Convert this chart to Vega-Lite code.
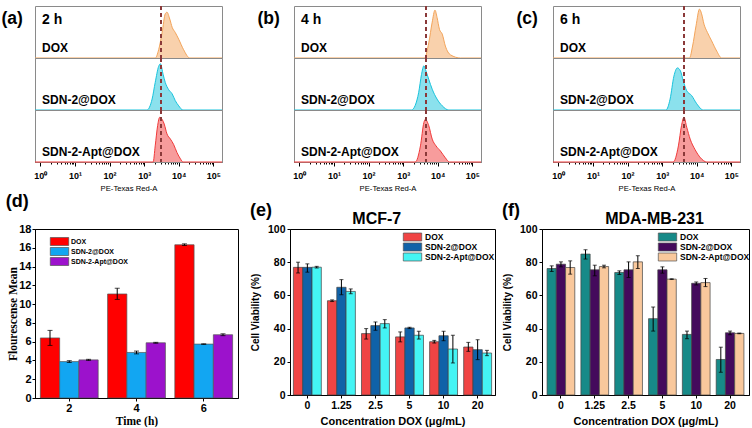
{
"$schema": "https://vega.github.io/schema/vega-lite/v6.json",
"padding": {"left": 1, "top": 4, "right": 0, "bottom": 0},
"config": {
 "font": "Liberation Sans",
 "view": {"stroke": "#8a8a8a"},
 "axis": {"grid": false, "labelOverlap": false, "domainColor": "black", "tickColor": "black", "labelColor": "black", "titleColor": "black", "labelFont": "Liberation Sans", "titleFont": "Liberation Sans"},
 "title": {"font": "Liberation Sans", "fontWeight": "bold", "color": "black"}
},
"datasets": {
 "hist": [
  {"t":"2 h","s":"DOX","x":0.7,"h":0},{"t":"2 h","s":"DOX","x":2089,"h":0},{"t":"2 h","s":"DOX","x":2630,"h":0.16},{"t":"2 h","s":"DOX","x":3311,"h":0.49},{"t":"2 h","s":"DOX","x":4074,"h":0.85},{"t":"2 h","s":"DOX","x":4571,"h":0.88},{"t":"2 h","s":"DOX","x":5495,"h":0.75},{"t":"2 h","s":"DOX","x":6457,"h":0.59},{"t":"2 h","s":"DOX","x":7943,"h":0.49},{"t":"2 h","s":"DOX","x":10000,"h":0.36},{"t":"2 h","s":"DOX","x":13804,"h":0.16},{"t":"2 h","s":"DOX","x":20893,"h":0},{"t":"2 h","s":"DOX","x":178000,"h":0},
  {"t":"2 h","s":"SDN-2@DOX","x":0.7,"h":0},{"t":"2 h","s":"SDN-2@DOX","x":1202,"h":0},{"t":"2 h","s":"SDN-2@DOX","x":1698,"h":0.21},{"t":"2 h","s":"SDN-2@DOX","x":2089,"h":0.53},{"t":"2 h","s":"SDN-2@DOX","x":2630,"h":0.84},{"t":"2 h","s":"SDN-2@DOX","x":2951,"h":0.89},{"t":"2 h","s":"SDN-2@DOX","x":3548,"h":0.68},{"t":"2 h","s":"SDN-2@DOX","x":4074,"h":0.53},{"t":"2 h","s":"SDN-2@DOX","x":5129,"h":0.39},{"t":"2 h","s":"SDN-2@DOX","x":6457,"h":0.31},{"t":"2 h","s":"SDN-2@DOX","x":7943,"h":0.18},{"t":"2 h","s":"SDN-2@DOX","x":10000,"h":0.08},{"t":"2 h","s":"SDN-2@DOX","x":13183,"h":0},{"t":"2 h","s":"SDN-2@DOX","x":178000,"h":0},
  {"t":"2 h","s":"SDN-2-Apt@DOX","x":0.7,"h":0},{"t":"2 h","s":"SDN-2-Apt@DOX","x":1820,"h":0},{"t":"2 h","s":"SDN-2-Apt@DOX","x":2089,"h":0.31},{"t":"2 h","s":"SDN-2-Apt@DOX","x":2455,"h":0.7},{"t":"2 h","s":"SDN-2-Apt@DOX","x":2818,"h":0.86},{"t":"2 h","s":"SDN-2-Apt@DOX","x":3311,"h":0.82},{"t":"2 h","s":"SDN-2-Apt@DOX","x":3802,"h":0.73},{"t":"2 h","s":"SDN-2-Apt@DOX","x":4571,"h":0.54},{"t":"2 h","s":"SDN-2-Apt@DOX","x":5754,"h":0.44},{"t":"2 h","s":"SDN-2-Apt@DOX","x":7079,"h":0.34},{"t":"2 h","s":"SDN-2-Apt@DOX","x":8913,"h":0.18},{"t":"2 h","s":"SDN-2-Apt@DOX","x":11220,"h":0.06},{"t":"2 h","s":"SDN-2-Apt@DOX","x":13183,"h":0},{"t":"2 h","s":"SDN-2-Apt@DOX","x":178000,"h":0},
  {"t":"4 h","s":"DOX","x":0.7,"h":0},{"t":"4 h","s":"DOX","x":4169,"h":0},{"t":"4 h","s":"DOX","x":5495,"h":0.29},{"t":"4 h","s":"DOX","x":6918,"h":0.69},{"t":"4 h","s":"DOX","x":8318,"h":0.92},{"t":"4 h","s":"DOX","x":9550,"h":0.78},{"t":"4 h","s":"DOX","x":11220,"h":0.55},{"t":"4 h","s":"DOX","x":13490,"h":0.46},{"t":"4 h","s":"DOX","x":16596,"h":0.23},{"t":"4 h","s":"DOX","x":23442,"h":0.06},{"t":"4 h","s":"DOX","x":45709,"h":0},{"t":"4 h","s":"DOX","x":178000,"h":0},
  {"t":"4 h","s":"SDN-2@DOX","x":0.7,"h":0},{"t":"4 h","s":"SDN-2@DOX","x":1738,"h":0},{"t":"4 h","s":"SDN-2@DOX","x":2239,"h":0.09},{"t":"4 h","s":"SDN-2@DOX","x":2818,"h":0.34},{"t":"4 h","s":"SDN-2@DOX","x":3388,"h":0.68},{"t":"4 h","s":"SDN-2@DOX","x":3981,"h":0.85},{"t":"4 h","s":"SDN-2@DOX","x":4571,"h":0.75},{"t":"4 h","s":"SDN-2@DOX","x":5495,"h":0.59},{"t":"4 h","s":"SDN-2@DOX","x":6918,"h":0.4},{"t":"4 h","s":"SDN-2@DOX","x":9550,"h":0.21},{"t":"4 h","s":"SDN-2@DOX","x":13490,"h":0.08},{"t":"4 h","s":"SDN-2@DOX","x":20893,"h":0},{"t":"4 h","s":"SDN-2@DOX","x":178000,"h":0},
  {"t":"4 h","s":"SDN-2-Apt@DOX","x":0.7,"h":0},{"t":"4 h","s":"SDN-2-Apt@DOX","x":2239,"h":0},{"t":"4 h","s":"SDN-2-Apt@DOX","x":3162,"h":0.31},{"t":"4 h","s":"SDN-2-Apt@DOX","x":3981,"h":0.76},{"t":"4 h","s":"SDN-2-Apt@DOX","x":4365,"h":0.82},{"t":"4 h","s":"SDN-2-Apt@DOX","x":5495,"h":0.7},{"t":"4 h","s":"SDN-2-Apt@DOX","x":6918,"h":0.44},{"t":"4 h","s":"SDN-2-Apt@DOX","x":8913,"h":0.31},{"t":"4 h","s":"SDN-2-Apt@DOX","x":12023,"h":0.21},{"t":"4 h","s":"SDN-2-Apt@DOX","x":16596,"h":0.08},{"t":"4 h","s":"SDN-2-Apt@DOX","x":21878,"h":0},{"t":"4 h","s":"SDN-2-Apt@DOX","x":178000,"h":0},
  {"t":"6 h","s":"DOX","x":0.7,"h":0},{"t":"6 h","s":"DOX","x":6166,"h":0},{"t":"6 h","s":"DOX","x":7586,"h":0.23},{"t":"6 h","s":"DOX","x":9550,"h":0.62},{"t":"6 h","s":"DOX","x":12023,"h":0.94},{"t":"6 h","s":"DOX","x":13804,"h":0.85},{"t":"6 h","s":"DOX","x":16218,"h":0.65},{"t":"6 h","s":"DOX","x":20417,"h":0.49},{"t":"6 h","s":"DOX","x":26915,"h":0.33},{"t":"6 h","s":"DOX","x":38019,"h":0.13},{"t":"6 h","s":"DOX","x":52481,"h":0},{"t":"6 h","s":"DOX","x":178000,"h":0},
  {"t":"6 h","s":"SDN-2@DOX","x":0.7,"h":0},{"t":"6 h","s":"SDN-2@DOX","x":1288,"h":0},{"t":"6 h","s":"SDN-2@DOX","x":1698,"h":0.21},{"t":"6 h","s":"SDN-2@DOX","x":2188,"h":0.65},{"t":"6 h","s":"SDN-2@DOX","x":2754,"h":0.81},{"t":"6 h","s":"SDN-2@DOX","x":3388,"h":0.75},{"t":"6 h","s":"SDN-2@DOX","x":4074,"h":0.56},{"t":"6 h","s":"SDN-2@DOX","x":5129,"h":0.37},{"t":"6 h","s":"SDN-2@DOX","x":7079,"h":0.28},{"t":"6 h","s":"SDN-2@DOX","x":10000,"h":0.12},{"t":"6 h","s":"SDN-2@DOX","x":15488,"h":0},{"t":"6 h","s":"SDN-2@DOX","x":178000,"h":0},
  {"t":"6 h","s":"SDN-2-Apt@DOX","x":0.7,"h":0},{"t":"6 h","s":"SDN-2-Apt@DOX","x":2089,"h":0},{"t":"6 h","s":"SDN-2-Apt@DOX","x":2951,"h":0.31},{"t":"6 h","s":"SDN-2-Apt@DOX","x":3631,"h":0.7},{"t":"6 h","s":"SDN-2-Apt@DOX","x":4266,"h":0.86},{"t":"6 h","s":"SDN-2-Apt@DOX","x":5129,"h":0.67},{"t":"6 h","s":"SDN-2-Apt@DOX","x":6457,"h":0.44},{"t":"6 h","s":"SDN-2-Apt@DOX","x":8913,"h":0.24},{"t":"6 h","s":"SDN-2-Apt@DOX","x":12882,"h":0.08},{"t":"6 h","s":"SDN-2-Apt@DOX","x":19498,"h":0},{"t":"6 h","s":"SDN-2-Apt@DOX","x":178000,"h":0}
 ],
 "bars_d": [
  {"time":"2","g":"DOX","mean":6.4,"lo":5.6,"hi":7.2},{"time":"2","g":"SDN-2@DOX","mean":3.88,"lo":3.78,"hi":3.98},{"time":"2","g":"SDN-2-Apt@DOX","mean":4.06,"lo":4.0,"hi":4.12},
  {"time":"4","g":"DOX","mean":11.08,"lo":10.5,"hi":11.69},{"time":"4","g":"SDN-2@DOX","mean":4.85,"lo":4.7,"hi":5.0},{"time":"4","g":"SDN-2-Apt@DOX","mean":5.88,"lo":5.83,"hi":5.93},
  {"time":"6","g":"DOX","mean":16.32,"lo":16.24,"hi":16.42},{"time":"6","g":"SDN-2@DOX","mean":5.74,"lo":5.71,"hi":5.77},{"time":"6","g":"SDN-2-Apt@DOX","mean":6.74,"lo":6.64,"hi":6.84}
 ],
 "bars_e": [
  {"c":"0","g":"DOX","mean":76.9,"lo":73.5,"hi":80},{"c":"0","g":"SDN-2@DOX","mean":76.9,"lo":74,"hi":79},{"c":"0","g":"SDN-2-Apt@DOX","mean":77,"lo":76.5,"hi":77.5},
  {"c":"1.25","g":"DOX","mean":56.8,"lo":56.3,"hi":57.3},{"c":"1.25","g":"SDN-2@DOX","mean":64.9,"lo":60.4,"hi":69.5},{"c":"1.25","g":"SDN-2-Apt@DOX","mean":62.4,"lo":61,"hi":63.9},
  {"c":"2.5","g":"DOX","mean":37,"lo":33.7,"hi":40},{"c":"2.5","g":"SDN-2@DOX","mean":41.8,"lo":39,"hi":44},{"c":"2.5","g":"SDN-2-Apt@DOX","mean":43,"lo":40.4,"hi":45.4},
  {"c":"5","g":"DOX","mean":35,"lo":32,"hi":38},{"c":"5","g":"SDN-2@DOX","mean":40.4,"lo":40,"hi":40.8},{"c":"5","g":"SDN-2-Apt@DOX","mean":36,"lo":33.7,"hi":38.4},
  {"c":"10","g":"DOX","mean":32.1,"lo":31.3,"hi":32.9},{"c":"10","g":"SDN-2@DOX","mean":35.7,"lo":32.7,"hi":38.4},{"c":"10","g":"SDN-2-Apt@DOX","mean":27.7,"lo":19.3,"hi":36},
  {"c":"20","g":"DOX","mean":28.9,"lo":26.3,"hi":31.7},{"c":"20","g":"SDN-2@DOX","mean":27.3,"lo":21.3,"hi":33.3},{"c":"20","g":"SDN-2-Apt@DOX","mean":25.3,"lo":23.7,"hi":26.9}
 ],
 "bars_f": [
  {"c":"0","g":"DOX","mean":76.2,"lo":74.4,"hi":77.8},{"c":"0","g":"SDN-2@DOX","mean":78.8,"lo":77.2,"hi":80.2},{"c":"0","g":"SDN-2-Apt@DOX","mean":76.8,"lo":72.8,"hi":80.8},
  {"c":"1.25","g":"DOX","mean":84.9,"lo":81.9,"hi":87.5},{"c":"1.25","g":"SDN-2@DOX","mean":75.4,"lo":71.8,"hi":78.2},{"c":"1.25","g":"SDN-2-Apt@DOX","mean":77.4,"lo":76.6,"hi":78.2},
  {"c":"2.5","g":"DOX","mean":73.8,"lo":72.6,"hi":74.8},{"c":"2.5","g":"SDN-2@DOX","mean":75.4,"lo":70.8,"hi":80.2},{"c":"2.5","g":"SDN-2-Apt@DOX","mean":80.2,"lo":76.2,"hi":83.9},
  {"c":"5","g":"DOX","mean":46,"lo":38.5,"hi":53},{"c":"5","g":"SDN-2@DOX","mean":75.4,"lo":73.4,"hi":77.2},{"c":"5","g":"SDN-2-Apt@DOX","mean":69.8,"lo":69.6,"hi":70},
  {"c":"10","g":"DOX","mean":36.5,"lo":33.9,"hi":38.5},{"c":"10","g":"SDN-2@DOX","mean":67.3,"lo":66.3,"hi":68.1},{"c":"10","g":"SDN-2-Apt@DOX","mean":67.7,"lo":65.3,"hi":70.2},
  {"c":"20","g":"DOX","mean":21.4,"lo":13.7,"hi":28.8},{"c":"20","g":"SDN-2@DOX","mean":37.5,"lo":36.3,"hi":38.5},{"c":"20","g":"SDN-2-Apt@DOX","mean":37.1,"lo":36.9,"hi":37.3}
 ]
},
"spacing": 0,
"resolve": {"scale": {"x": "independent", "y": "independent", "color": "independent", "xOffset": "independent"}},
"vconcat": [
 {"spacing": 32,
  "resolve": {"scale": {"x": "independent", "y": "independent", "color": "independent"}},
  "hconcat": [
  {"data": {"name": "hist"}, "transform": [{"filter": "datum.t === '2 h'"}],
   "title": {"text": "(a)", "anchor": "start", "frame": "bounds", "fontSize": 17.5, "offset": -23, "dx": -31},
   "facet": {"row": {"field": "s", "type": "nominal", "sort": ["DOX","SDN-2@DOX","SDN-2-Apt@DOX"], "header": null}},
   "spacing": 0, "bounds": "flush",
   "spec": {"width": 187, "height": 52, "layer": [
    {"mark": {"type": "area", "opacity": 0.5, "interpolate": "monotone"}, "encoding": {
      "x": {"field": "x", "type": "quantitative", "scale": {"type": "log", "domain": [0.7, 178000], "nice": false}, "axis": {"title": "PE-Texas Red-A", "titleFontSize": 7.7, "titleFontWeight": "normal", "titlePadding": 4, "values": [1,2,3,4,5,6,7,8,9,10,20,30,40,50,60,70,80,90,100,200,300,400,500,600,700,800,900,1000,2000,3000,4000,5000,6000,7000,8000,9000,10000,20000,30000,40000,50000,60000,70000,80000,90000,100000], "labelExpr": "datum.value==1?'10⁰':datum.value==10?'10¹':datum.value==100?'10²':datum.value==1000?'10³':datum.value==10000?'10⁴':datum.value==100000?'10⁵':''", "labelFontSize": 9, "labelFontWeight": "bold", "labelOverlap": false, "labelFlush": false, "labelPadding": 5, "tickSize": {"condition": {"test": "indexof([1,10,100,1000,10000,100000], datum.value) >= 0", "value": 4}, "value": 2}, "domainWidth": 1.2}},
      "y": {"field": "h", "type": "quantitative", "scale": {"domain": [0, 1], "nice": false}, "axis": null},
      "color": {"field": "s", "type": "nominal", "scale": {"domain": ["DOX","SDN-2@DOX","SDN-2-Apt@DOX"], "range": ["#F3A45A","#18C3DC","#F03A3A"]}, "legend": null}}},
    {"mark": {"type": "line", "strokeWidth": 1, "interpolate": "monotone"}, "encoding": {
      "x": {"field": "x", "type": "quantitative"},
      "y": {"field": "h", "type": "quantitative", "axis": null},
      "color": {"field": "s", "type": "nominal", "legend": null}}},
    {"mark": {"type": "rule", "color": "#8B3A3A", "strokeDash": [4, 3], "strokeWidth": 1.2}, "encoding": {"x": {"datum": 3090}}},
    {"transform": [{"aggregate": [{"op": "count", "as": "n"}], "groupby": ["s"]}], "mark": {"type": "text", "align": "left", "baseline": "alphabetic", "fontSize": 12, "fontWeight": "bold", "color": "black"}, "encoding": {"text": {"field": "s"}, "x": {"datum": 1.12}, "y": {"datum": 0.12, "axis": null}}},
    {"transform": [{"aggregate": [{"op": "count", "as": "n"}], "groupby": ["s", "t"]}, {"filter": "datum.s === 'DOX'"}], "mark": {"type": "text", "align": "left", "baseline": "alphabetic", "fontSize": 14, "fontWeight": "bold", "color": "black"}, "encoding": {"text": {"field": "t"}, "x": {"datum": 1.12}, "y": {"datum": 0.66, "axis": null}}}
   ]}},
  {"data": {"name": "hist"}, "transform": [{"filter": "datum.t === '4 h'"}],
   "title": {"text": "(b)", "anchor": "start", "frame": "bounds", "fontSize": 17.5, "offset": -23, "dx": -34},
   "facet": {"row": {"field": "s", "type": "nominal", "sort": ["DOX","SDN-2@DOX","SDN-2-Apt@DOX"], "header": null}},
   "spacing": 0, "bounds": "flush",
   "spec": {"width": 187, "height": 52, "layer": [
    {"mark": {"type": "area", "opacity": 0.5, "interpolate": "monotone"}, "encoding": {
      "x": {"field": "x", "type": "quantitative", "scale": {"type": "log", "domain": [0.7, 178000], "nice": false}, "axis": {"title": "PE-Texas Red-A", "titleFontSize": 7.7, "titleFontWeight": "normal", "titlePadding": 4, "values": [1,2,3,4,5,6,7,8,9,10,20,30,40,50,60,70,80,90,100,200,300,400,500,600,700,800,900,1000,2000,3000,4000,5000,6000,7000,8000,9000,10000,20000,30000,40000,50000,60000,70000,80000,90000,100000], "labelExpr": "datum.value==1?'10⁰':datum.value==10?'10¹':datum.value==100?'10²':datum.value==1000?'10³':datum.value==10000?'10⁴':datum.value==100000?'10⁵':''", "labelFontSize": 9, "labelFontWeight": "bold", "labelOverlap": false, "labelFlush": false, "labelPadding": 5, "tickSize": {"condition": {"test": "indexof([1,10,100,1000,10000,100000], datum.value) >= 0", "value": 4}, "value": 2}, "domainWidth": 1.2}},
      "y": {"field": "h", "type": "quantitative", "scale": {"domain": [0, 1], "nice": false}, "axis": null},
      "color": {"field": "s", "type": "nominal", "scale": {"domain": ["DOX","SDN-2@DOX","SDN-2-Apt@DOX"], "range": ["#F3A45A","#18C3DC","#F03A3A"]}, "legend": null}}},
    {"mark": {"type": "line", "strokeWidth": 1, "interpolate": "monotone"}, "encoding": {
      "x": {"field": "x", "type": "quantitative"},
      "y": {"field": "h", "type": "quantitative", "axis": null},
      "color": {"field": "s", "type": "nominal", "legend": null}}},
    {"mark": {"type": "rule", "color": "#8B3A3A", "strokeDash": [4, 3], "strokeWidth": 1.2}, "encoding": {"x": {"datum": 4571}}},
    {"transform": [{"aggregate": [{"op": "count", "as": "n"}], "groupby": ["s"]}], "mark": {"type": "text", "align": "left", "baseline": "alphabetic", "fontSize": 12, "fontWeight": "bold", "color": "black"}, "encoding": {"text": {"field": "s"}, "x": {"datum": 1.12}, "y": {"datum": 0.12, "axis": null}}},
    {"transform": [{"aggregate": [{"op": "count", "as": "n"}], "groupby": ["s", "t"]}, {"filter": "datum.s === 'DOX'"}], "mark": {"type": "text", "align": "left", "baseline": "alphabetic", "fontSize": 14, "fontWeight": "bold", "color": "black"}, "encoding": {"text": {"field": "t"}, "x": {"datum": 1.12}, "y": {"datum": 0.66, "axis": null}}}
   ]}},
  {"data": {"name": "hist"}, "transform": [{"filter": "datum.t === '6 h'"}],
   "title": {"text": "(c)", "anchor": "start", "frame": "bounds", "fontSize": 17.5, "offset": -23, "dx": -34},
   "facet": {"row": {"field": "s", "type": "nominal", "sort": ["DOX","SDN-2@DOX","SDN-2-Apt@DOX"], "header": null}},
   "spacing": 0, "bounds": "flush",
   "spec": {"width": 187, "height": 52, "layer": [
    {"mark": {"type": "area", "opacity": 0.5, "interpolate": "monotone"}, "encoding": {
      "x": {"field": "x", "type": "quantitative", "scale": {"type": "log", "domain": [0.7, 178000], "nice": false}, "axis": {"title": "PE-Texas Red-A", "titleFontSize": 7.7, "titleFontWeight": "normal", "titlePadding": 4, "values": [1,2,3,4,5,6,7,8,9,10,20,30,40,50,60,70,80,90,100,200,300,400,500,600,700,800,900,1000,2000,3000,4000,5000,6000,7000,8000,9000,10000,20000,30000,40000,50000,60000,70000,80000,90000,100000], "labelExpr": "datum.value==1?'10⁰':datum.value==10?'10¹':datum.value==100?'10²':datum.value==1000?'10³':datum.value==10000?'10⁴':datum.value==100000?'10⁵':''", "labelFontSize": 9, "labelFontWeight": "bold", "labelOverlap": false, "labelFlush": false, "labelPadding": 5, "tickSize": {"condition": {"test": "indexof([1,10,100,1000,10000,100000], datum.value) >= 0", "value": 4}, "value": 2}, "domainWidth": 1.2}},
      "y": {"field": "h", "type": "quantitative", "scale": {"domain": [0, 1], "nice": false}, "axis": null},
      "color": {"field": "s", "type": "nominal", "scale": {"domain": ["DOX","SDN-2@DOX","SDN-2-Apt@DOX"], "range": ["#F3A45A","#18C3DC","#F03A3A"]}, "legend": null}}},
    {"mark": {"type": "line", "strokeWidth": 1, "interpolate": "monotone"}, "encoding": {
      "x": {"field": "x", "type": "quantitative"},
      "y": {"field": "h", "type": "quantitative", "axis": null},
      "color": {"field": "s", "type": "nominal", "legend": null}}},
    {"mark": {"type": "rule", "color": "#8B3A3A", "strokeDash": [4, 3], "strokeWidth": 1.2}, "encoding": {"x": {"datum": 4266}}},
    {"transform": [{"aggregate": [{"op": "count", "as": "n"}], "groupby": ["s"]}], "mark": {"type": "text", "align": "left", "baseline": "alphabetic", "fontSize": 12, "fontWeight": "bold", "color": "black"}, "encoding": {"text": {"field": "s"}, "x": {"datum": 1.12}, "y": {"datum": 0.12, "axis": null}}},
    {"transform": [{"aggregate": [{"op": "count", "as": "n"}], "groupby": ["s", "t"]}, {"filter": "datum.s === 'DOX'"}], "mark": {"type": "text", "align": "left", "baseline": "alphabetic", "fontSize": 14, "fontWeight": "bold", "color": "black"}, "encoding": {"text": {"field": "t"}, "x": {"datum": 1.12}, "y": {"datum": 0.66, "axis": null}}}
   ]}}
 ]},
 {"spacing": 10,
  "resolve": {"scale": {"x": "independent", "y": "independent", "color": "independent", "xOffset": "independent"}},
  "hconcat": [
  {"title": {"text": "(d)", "anchor": "start", "frame": "bounds", "fontSize": 18, "offset": 12, "dx": -2},
   "width": 203, "height": 169,
   "data": {"name": "bars_d"},
   "view": {"stroke": "black", "strokeWidth": 1},
   "encoding": {
    "x": {"field": "time", "type": "nominal", "sort": ["2","4","6"], "scale": {"paddingInner": 0.14, "paddingOuter": 0.08}, "axis": {"title": "Time (h)", "labelAngle": 0, "labelFontSize": 11, "labelFontWeight": "bold", "titleFont": "Liberation Serif", "titleFontSize": 11.5, "titleFontWeight": "bold", "tickSize": 3, "labelPadding": 1, "titlePadding": 2}},
    "xOffset": {"field": "g", "type": "nominal", "sort": ["DOX","SDN-2@DOX","SDN-2-Apt@DOX"]}
   },
   "layer": [
    {"mark": {"type": "bar", "stroke": "#555", "strokeWidth": 0.7}, "encoding": {
      "y": {"field": "mean", "type": "quantitative", "scale": {"domain": [0, 18], "nice": false}, "axis": {"title": "Flourescense Mean", "values": [0,2,4,6,8,10,12,14,16,18], "labelOverlap": false, "labelFontSize": 11, "labelFontWeight": "bold", "titleFont": "Liberation Serif", "titleFontSize": 11.5, "titleFontWeight": "bold", "tickSize": 3, "labelPadding": 1, "titlePadding": 0}},
      "color": {"field": "g", "type": "nominal", "sort": ["DOX","SDN-2@DOX","SDN-2-Apt@DOX"], "scale": {"domain": ["DOX","SDN-2@DOX","SDN-2-Apt@DOX"], "range": ["#FF0000","#12A6F2","#9C12CC"]},
        "legend": {"title": null, "orient": "none", "legendX": 20, "legendY": 8, "padding": 0, "labelFontSize": 7, "labelFontWeight": "bold", "symbolType": "M-2.3,-1H2.3V1H-2.3Z", "symbolSize": 64, "symbolStrokeColor": "#555", "symbolStrokeWidth": 0.7, "symbolOpacity": 1, "labelOffset": 7, "rowPadding": -1}}}},
    {"mark": {"type": "rule", "color": "black", "strokeWidth": 1}, "encoding": {"y": {"field": "lo", "type": "quantitative", "axis": {"title": "Flourescense Mean", "values": [0,2,4,6,8,10,12,14,16,18], "labelOverlap": false, "labelFontSize": 11, "labelFontWeight": "bold", "titleFont": "Liberation Serif", "titleFontSize": 11.5, "titleFontWeight": "bold", "tickSize": 3, "labelPadding": 1, "titlePadding": 0}}, "y2": {"field": "hi"}}},
    {"mark": {"type": "tick", "color": "black", "thickness": 1, "size": 5}, "encoding": {"y": {"field": "hi", "type": "quantitative", "axis": {"title": "Flourescense Mean", "values": [0,2,4,6,8,10,12,14,16,18], "labelOverlap": false, "labelFontSize": 11, "labelFontWeight": "bold", "titleFont": "Liberation Serif", "titleFontSize": 11.5, "titleFontWeight": "bold", "tickSize": 3, "labelPadding": 1, "titlePadding": 0}}}},
    {"mark": {"type": "tick", "color": "black", "thickness": 1, "size": 5}, "encoding": {"y": {"field": "lo", "type": "quantitative", "axis": {"title": "Flourescense Mean", "values": [0,2,4,6,8,10,12,14,16,18], "labelOverlap": false, "labelFontSize": 11, "labelFontWeight": "bold", "titleFont": "Liberation Serif", "titleFontSize": 11.5, "titleFontWeight": "bold", "tickSize": 3, "labelPadding": 1, "titlePadding": 0}}}}
   ]},
  {"spacing": 5,
   "resolve": {"scale": {"x": "independent", "y": "independent", "color": "independent", "xOffset": "independent"}},
   "hconcat": [
   {"title": {"text": "(e)", "anchor": "start", "frame": "bounds", "fontSize": 18, "offset": -9},
    "hconcat": [
    {"title": {"text": "MCF-7", "anchor": "middle", "frame": "bounds", "fontSize": 16, "offset": -3, "dx": 4},
     "width": 205, "height": 166,
     "data": {"name": "bars_e"},
     "view": {"stroke": "black", "strokeWidth": 1},
     "encoding": {
      "x": {"field": "c", "type": "nominal", "sort": ["0","1.25","2.5","5","10","20"], "scale": {"paddingInner": 0.18, "paddingOuter": 0.1}, "axis": {"title": "Concentration DOX (μg/mL)", "labelAngle": 0, "labelFontSize": 10.5, "labelFontWeight": "bold", "titleFontSize": 11, "titleFontWeight": "bold", "tickSize": 3, "labelPadding": 2, "titlePadding": 5}},
      "xOffset": {"field": "g", "type": "nominal", "sort": ["DOX","SDN-2@DOX","SDN-2-Apt@DOX"]}
     },
     "layer": [
      {"mark": {"type": "bar", "stroke": "#444", "strokeWidth": 0.7}, "encoding": {
        "y": {"field": "mean", "type": "quantitative", "scale": {"domain": [0, 100], "nice": false}, "axis": {"title": "Cell Viability (%)", "values": [0,20,40,60,80,100], "labelOverlap": false, "labelFontSize": 10.5, "labelFontWeight": "bold", "titleFont": "Liberation Sans Narrow, Liberation Sans", "titleFontSize": 10, "titleFontWeight": "bold", "tickSize": 3, "labelPadding": 2, "titlePadding": 7}},
        "color": {"field": "g", "type": "nominal", "sort": ["DOX","SDN-2@DOX","SDN-2-Apt@DOX"], "scale": {"domain": ["DOX","SDN-2@DOX","SDN-2-Apt@DOX"], "range": ["#F04444","#1062A8","#44F4F4"]},
          "legend": {"title": null, "orient": "none", "legendX": 118, "legendY": 3.5, "padding": 0, "labelFontSize": 8.5, "labelFontWeight": "bold", "symbolType": "M-2.3,-1H2.3V1H-2.3Z", "symbolSize": 64, "symbolStrokeColor": "#555", "symbolStrokeWidth": 0.7, "symbolOpacity": 1, "labelOffset": 8, "rowPadding": -1.5}}}},
      {"mark": {"type": "rule", "color": "black", "strokeWidth": 1}, "encoding": {"y": {"field": "lo", "type": "quantitative", "axis": {"title": "Cell Viability (%)", "values": [0,20,40,60,80,100], "labelOverlap": false, "labelFontSize": 10.5, "labelFontWeight": "bold", "titleFont": "Liberation Sans Narrow, Liberation Sans", "titleFontSize": 10, "titleFontWeight": "bold", "tickSize": 3, "labelPadding": 2, "titlePadding": 7}}, "y2": {"field": "hi"}}},
      {"mark": {"type": "tick", "color": "black", "thickness": 1, "size": 4}, "encoding": {"y": {"field": "hi", "type": "quantitative", "axis": {"title": "Cell Viability (%)", "values": [0,20,40,60,80,100], "labelOverlap": false, "labelFontSize": 10.5, "labelFontWeight": "bold", "titleFont": "Liberation Sans Narrow, Liberation Sans", "titleFontSize": 10, "titleFontWeight": "bold", "tickSize": 3, "labelPadding": 2, "titlePadding": 7}}}},
      {"mark": {"type": "tick", "color": "black", "thickness": 1, "size": 4}, "encoding": {"y": {"field": "lo", "type": "quantitative", "axis": {"title": "Cell Viability (%)", "values": [0,20,40,60,80,100], "labelOverlap": false, "labelFontSize": 10.5, "labelFontWeight": "bold", "titleFont": "Liberation Sans Narrow, Liberation Sans", "titleFontSize": 10, "titleFontWeight": "bold", "tickSize": 3, "labelPadding": 2, "titlePadding": 7}}}}
     ]}
    ]},
   {"title": {"text": "(f)", "anchor": "start", "frame": "bounds", "fontSize": 18, "offset": -9},
    "hconcat": [
    {"title": {"text": "MDA-MB-231", "anchor": "middle", "frame": "group", "fontSize": 16, "offset": -3, "dx": 9},
     "width": 207, "height": 166,
     "data": {"name": "bars_f"},
     "view": {"stroke": "black", "strokeWidth": 1},
     "encoding": {
      "x": {"field": "c", "type": "nominal", "sort": ["0","1.25","2.5","5","10","20"], "scale": {"paddingInner": 0.18, "paddingOuter": 0.15}, "axis": {"title": "Concentration DOX (μg/mL)", "labelAngle": 0, "labelFontSize": 10.5, "labelFontWeight": "bold", "titleFontSize": 11, "titleFontWeight": "bold", "tickSize": 3, "labelPadding": 2, "titlePadding": 5}},
      "xOffset": {"field": "g", "type": "nominal", "sort": ["DOX","SDN-2@DOX","SDN-2-Apt@DOX"]}
     },
     "layer": [
      {"mark": {"type": "bar", "stroke": "#444", "strokeWidth": 0.7}, "encoding": {
        "y": {"field": "mean", "type": "quantitative", "scale": {"domain": [0, 100], "nice": false}, "axis": {"title": "Cell Viability (%)", "values": [0,20,40,60,80,100], "labelOverlap": false, "labelFontSize": 10.5, "labelFontWeight": "bold", "titleFont": "Liberation Sans Narrow, Liberation Sans", "titleFontSize": 10, "titleFontWeight": "bold", "tickSize": 3, "labelPadding": 2, "titlePadding": 7}},
        "color": {"field": "g", "type": "nominal", "sort": ["DOX","SDN-2@DOX","SDN-2-Apt@DOX"], "scale": {"domain": ["DOX","SDN-2@DOX","SDN-2-Apt@DOX"], "range": ["#178A88","#440A5C","#F9C89C"]},
          "legend": {"title": null, "orient": "none", "legendX": 121, "legendY": 3.5, "padding": 0, "labelFontSize": 8.5, "labelFontWeight": "bold", "symbolType": "M-2.3,-1H2.3V1H-2.3Z", "symbolSize": 64, "symbolStrokeColor": "#555", "symbolStrokeWidth": 0.7, "symbolOpacity": 1, "labelOffset": 8, "rowPadding": -1.5}}}},
      {"mark": {"type": "rule", "color": "black", "strokeWidth": 1}, "encoding": {"y": {"field": "lo", "type": "quantitative", "axis": {"title": "Cell Viability (%)", "values": [0,20,40,60,80,100], "labelOverlap": false, "labelFontSize": 10.5, "labelFontWeight": "bold", "titleFont": "Liberation Sans Narrow, Liberation Sans", "titleFontSize": 10, "titleFontWeight": "bold", "tickSize": 3, "labelPadding": 2, "titlePadding": 7}}, "y2": {"field": "hi"}}},
      {"mark": {"type": "tick", "color": "black", "thickness": 1, "size": 4}, "encoding": {"y": {"field": "hi", "type": "quantitative", "axis": {"title": "Cell Viability (%)", "values": [0,20,40,60,80,100], "labelOverlap": false, "labelFontSize": 10.5, "labelFontWeight": "bold", "titleFont": "Liberation Sans Narrow, Liberation Sans", "titleFontSize": 10, "titleFontWeight": "bold", "tickSize": 3, "labelPadding": 2, "titlePadding": 7}}}},
      {"mark": {"type": "tick", "color": "black", "thickness": 1, "size": 4}, "encoding": {"y": {"field": "lo", "type": "quantitative", "axis": {"title": "Cell Viability (%)", "values": [0,20,40,60,80,100], "labelOverlap": false, "labelFontSize": 10.5, "labelFontWeight": "bold", "titleFont": "Liberation Sans Narrow, Liberation Sans", "titleFontSize": 10, "titleFontWeight": "bold", "tickSize": 3, "labelPadding": 2, "titlePadding": 7}}}}
     ]}
    ]}
  ]}
 ]}
]
}
